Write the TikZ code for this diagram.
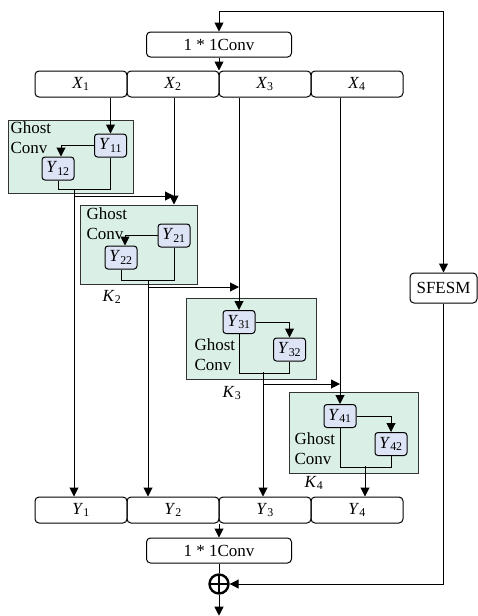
\documentclass[tikz,border=0pt]{standalone}
\usepackage{fontspec}
\setmainfont{Liberation Serif}
\usepackage{tikz}
\usetikzlibrary{arrows.meta, positioning}
\definecolor{ghostgreen}{RGB}{218,240,230}
\definecolor{yblue}{RGB}{221,228,246}

\begin{document}
\begin{tikzpicture}[x=1pt, y=-1pt, font=\fontsize{17}{20}\selectfont, line width=1pt, >={Triangle[length=9pt,width=9pt]}]
    % 定义样式
    \tikzstyle{bar} = [rectangle, draw, rounded corners=4pt, minimum width=92pt, minimum height=26pt, inner sep=0pt]
    \tikzstyle{conv} = [rectangle, draw, rounded corners=4pt, minimum width=145pt, minimum height=25pt, inner sep=0pt]
    \tikzstyle{ghost} = [rectangle, draw=black!80, fill=ghostgreen, inner sep=0pt]
    \tikzstyle{ybox} = [rectangle, draw, rounded corners=3pt, fill=yblue, minimum width=32pt, minimum height=23pt, inner sep=0pt]
    \tikzstyle{lbl} = [align=left, anchor=north west, inner sep=0pt]
    \tikzstyle{arrow} = [->]

    \useasboundingbox (0,0) rectangle (478,616);

    % 节点
    \node (conv1) [conv] at (219,44.5) {1 * 1Conv};

    \node (X1) [bar] at (81,84) {\textit{X}\textsubscript{1}};
    \node (X2) [bar] at (173,84) {\textit{X}\textsubscript{2}};
    \node (X3) [bar] at (265,84) {\textit{X}\textsubscript{3}};
    \node (X4) [bar] at (357,84) {\textit{X}\textsubscript{4}};

    \node (G1) [ghost, minimum width=125pt, minimum height=73pt] at (70.5,156.5) {};
    \node (G2) [ghost, minimum width=117pt, minimum height=79pt] at (138.5,244.5) {};
    \node (G3) [ghost, minimum width=130pt, minimum height=81pt] at (251,338.5) {};
    \node (G4) [ghost, minimum width=129pt, minimum height=81pt] at (353.5,432.5) {};

    \node (g1lbl) [lbl] at (10,121) {Ghost\\Conv};
    \node (g2lbl) [lbl] at (86,207) {Ghost\\Conv};
    \node (g3lbl) [lbl] at (194,338) {Ghost\\Conv};
    \node (g4lbl) [lbl] at (294,432) {Ghost\\Conv};

    \node (Y11) [ybox] at (110.5,145.5) {\textit{Y}\textsubscript{11}};
    \node (Y12) [ybox] at (58,168.5) {\textit{Y}\textsubscript{12}};
    \node (Y21) [ybox] at (174,235.5) {\textit{Y}\textsubscript{21}};
    \node (Y22) [ybox] at (121,257.5) {\textit{Y}\textsubscript{22}};
    \node (Y31) [ybox] at (239,322) {\textit{Y}\textsubscript{31}};
    \node (Y32) [ybox] at (289.5,349.5) {\textit{Y}\textsubscript{32}};
    \node (Y41) [ybox] at (340,416) {\textit{Y}\textsubscript{41}};
    \node (Y42) [ybox] at (391,444) {\textit{Y}\textsubscript{42}};

    \node (K2) at (112,297) {\textit{K}\textsubscript{2}};
    \node (K3) at (232,393) {\textit{K}\textsubscript{3}};
    \node (K4) at (314,483) {\textit{K}\textsubscript{4}};

    \node (Y1) [bar] at (81,510) {\textit{Y}\textsubscript{1}};
    \node (Y2) [bar] at (173,510) {\textit{Y}\textsubscript{2}};
    \node (Y3) [bar] at (265,510) {\textit{Y}\textsubscript{3}};
    \node (Y4) [bar] at (357,510) {\textit{Y}\textsubscript{4}};

    \node (conv2) [conv] at (219,550.5) {1 * 1Conv};
    \node (sfesm) [rectangle, draw, rounded corners=4pt, minimum width=67pt, minimum height=30pt, inner sep=0pt] at (443.5,288) {SFESM};
    \node (add) [circle, draw, line width=2.4pt, minimum size=19pt, inner sep=0pt,
        path picture={\draw[line width=2.4pt] (path picture bounding box.north) -- (path picture bounding box.south)
        (path picture bounding box.west) -- (path picture bounding box.east);}] at (219,584) {};

    \coordinate (top) at (443.5,11);
    \coordinate (o1) at (74,189);
    \coordinate (b1) at (74,196);
    \coordinate (o2) at (148,280);
    \coordinate (b2) at (148,287);
    \coordinate (o3) at (263,372);
    \coordinate (b3) at (263,384);
    \coordinate (o4) at (365,466);

    % 连接线
    \draw [arrow] (top) -| (conv1.north);
    \draw [arrow] (top) -- (sfesm.north);
    \draw [arrow] (conv1.south) -- (conv1.south |- X2.north);

    \draw [arrow] (Y11 |- X1.south) -- (Y11.north);
    \draw [arrow] (Y21 |- X2.south) -- (Y21 |- G2.north);
    \draw [arrow] (Y31 |- X3.south) -- (Y31.north);
    \draw [arrow] (Y41 |- X4.south) -- (Y41.north);

    \draw [arrow] (Y11.west) -| ([xshift=3pt]Y12.north);
    \draw (Y11.south) -- ++(0,32) -| (Y12.south);
    \draw [arrow] (Y21.west) -| ([xshift=4pt]Y22.north);
    \draw (Y21.south) -- ++(0,33) -| (Y22.south);
    \draw [arrow] (Y31.east) -| (Y32.north);
    \draw (Y31.south) -- ++(0,39) -| (Y32.south);
    \draw [arrow] (Y41.east) -| (Y42.north);
    \draw (Y41.south) -- ++(0,39) -| (Y42.south);

    \draw [arrow] (o1) -- (o1 |- Y1.north);
    \draw [arrow] (b1) -- (b1 -| Y21);
    \draw [arrow] (o2) -- (o2 |- Y2.north);
    \draw [arrow] (b2) -- (b2 -| Y31);
    \draw [arrow] (o3) -- (o3 |- Y3.north);
    \draw [arrow] (b3) -- (b3 -| Y41);
    \draw [arrow] (o4) -- (o4 |- Y4.north);

    \draw [arrow] (conv2.north |- Y2.south) -- (conv2.north);
    \draw (conv2.south) -- (add.north);
    \draw [arrow] (sfesm.south) |- (add.east);
    \draw [arrow] (add.south) -- ++(0,21);
\end{tikzpicture}
\end{document}
